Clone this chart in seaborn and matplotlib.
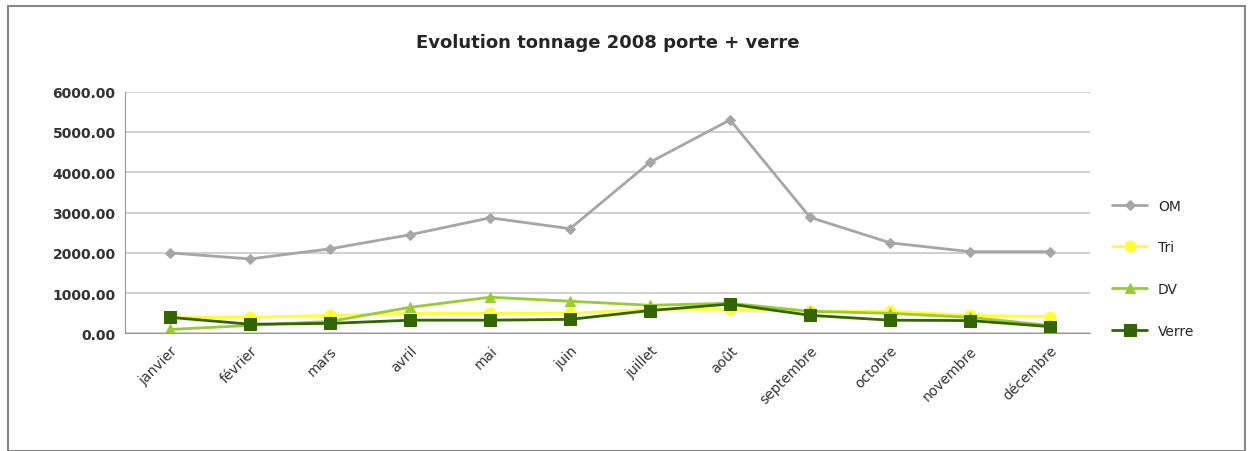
import matplotlib
matplotlib.use('Agg')
import matplotlib.pyplot as plt
import seaborn as sns
import pandas as pd

months = ['janvier', 'février', 'mars', 'avril', 'mai', 'juin', 'juillet',
          'août', 'septembre', 'octobre', 'novembre', 'décembre']
om = [2000, 1850, 2100, 2450, 2870, 2600, 4250, 5300, 2880, 2250, 2030, 2030]
tri = [400, 400, 450, 500, 500, 500, 600, 600, 550, 550, 450, 420]
dv = [100, 200, 300, 650, 900, 800, 700, 750, 550, 500, 400, 200]
verre = [400, 230, 250, 330, 330, 350, 570, 730, 450, 330, 320, 170]

series = {'OM': om, 'Tri': tri, 'DV': dv, 'Verre': verre}
colors = {'OM': '#a6a6a6', 'Tri': '#ffff33', 'DV': '#99cc33', 'Verre': '#336600'}
markers = {'OM': 'D', 'Tri': 'o', 'DV': '^', 'Verre': 's'}
sizes = {'OM': 5, 'Tri': 8, 'DV': 7, 'Verre': 8}

rows = [(m, i, k, v[i]) for k, v in series.items() for i, m in enumerate(months)]
df = pd.DataFrame(rows, columns=['mois', 'idx', 'serie', 'tonnage'])

sns.set_style('white')
fig = plt.figure(figsize=(12.53, 4.52), dpi=100)
ax = fig.add_axes([0.10, 0.26, 0.77, 0.535])

for k in series:
    d = df[df.serie == k]
    sns.lineplot(data=d, x='idx', y='tonnage', ax=ax, color=colors[k], marker=markers[k],
                 markersize=sizes[k], markeredgecolor=colors[k], linewidth=2, label=k)

ax.set_xlim(-0.56, 11.5)
ax.set_ylim(0, 6000)
ax.set_yticks(range(0, 6001, 1000))
ax.set_yticklabels([f'{v:.2f}' for v in range(0, 6001, 1000)], fontsize=10, fontweight='bold', color='#333333')
ax.set_xticks(range(12))
ax.set_xticklabels(months, rotation=45, ha='right', rotation_mode='anchor', fontsize=10, color='#333333')
ax.yaxis.grid(True, color='#c8c8c8', linewidth=1.2)
for s in ['top', 'right']:
    ax.spines[s].set_visible(False)
ax.spines['left'].set_color('#999999')
ax.spines['bottom'].set_color('#999999')
ax.set_xlabel('')
ax.set_ylabel('')
ax.set_title('Evolution tonnage 2008 porte + verre', fontsize=13, fontweight='bold', pad=32)
ax.legend(loc='center left', bbox_to_anchor=(1.01, 0.27), frameon=False, fontsize=10,
          labelspacing=2.0, handlelength=2.5)

fig.patches.append(plt.Rectangle((0.006, 0.0), 0.988, 0.985, transform=fig.transFigure,
                                 fill=False, edgecolor='#888888', linewidth=1.5))
fig.savefig('out.png', dpi=100)
